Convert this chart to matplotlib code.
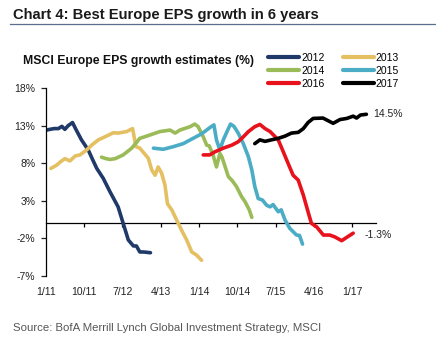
import matplotlib
matplotlib.use("Agg")
import matplotlib.pyplot as plt
from matplotlib.lines import Line2D

plt.rcParams["font.family"] = ["Liberation Sans", "DejaVu Sans"]

# x positions are months since January 2011
tick_months = [0, 9, 18, 27, 36, 45, 54, 63, 72]
tick_labels = ["1/11", "10/11", "7/12", "4/13", "1/14", "10/14", "7/15", "4/16", "1/17"]
y_ticks = [-7, -2, 3, 8, 13, 18]

m2012 = [0.2, 1, 2, 3, 3.8, 4.5, 5.3, 6.3, 7, 8.4, 10, 11, 12, 13.5, 15.1, 17, 18.2, 19.4, 20.6, 21.3, 22.1, 23, 24.6]
v2012 = [12.4, 12.5, 12.6, 12.6, 12.9, 12.5, 13.0, 13.4, 12.6, 11.1, 9.75, 8.5, 7.3, 6.0, 4.2, 2.2, 0.0, -2.2, -3.0, -3.0, -3.8, -3.8, -3.9]

m2013 = [1.2, 2.6, 3.5, 4.5, 5.7, 6.9, 8.05, 9.6, 10.8, 12.35, 13.9, 15.9, 17, 19, 20.4, 21.2, 22.1, 24.1, 24.9, 25.7, 26.4, 27.2, 28, 28.6, 29.6, 30.75, 31.9, 33.1, 34.3, 35.4, 36.6]
v2013 = [7.3, 7.75, 8.2, 8.6, 8.3, 8.95, 9.1, 9.75, 10.4, 11.1, 11.5, 12.05, 12.0, 12.2, 12.6, 10.2, 10.0, 8.65, 7.1, 6.4, 7.5, 6.7, 5.1, 2.6, 1.8, 0.45, -0.9, -2.2, -3.8, -4.2, -4.9]

m2014 = [13.1, 14.2, 15.1, 16.3, 18.2, 20.2, 22.1, 24.5, 26.8, 29.2, 30.4, 31.5, 33.9, 35.0, 35.8, 37.0, 37.8, 38.4, 39.3, 40.1, 40.9, 41.4, 42.9, 43.7, 44.8, 46.0, 46.8, 47.8, 48.4]
v2014 = [8.8, 8.6, 8.5, 8.6, 9.1, 10.0, 11.3, 11.75, 12.2, 12.4, 12.0, 12.4, 12.85, 13.2, 12.85, 11.5, 10.4, 10.3, 9.1, 7.5, 9.3, 8.8, 6.2, 5.75, 4.9, 3.55, 2.9, 1.8, 0.8]

m2015 = [25.3, 27.6, 30.0, 32.3, 34.6, 36.6, 38.6, 39.5, 40.1, 40.9, 41.7, 42.9, 43.4, 44.2, 45.2, 46.4, 47.6, 48.4, 49.1, 49.9, 50.9, 51.9, 52.7, 53.4, 54.6, 55.3, 56.2, 57.3, 58.9, 59.6, 60.3]
v2015 = [10.0, 9.85, 10.2, 10.6, 11.3, 11.9, 12.75, 13.1, 11.1, 9.75, 11.1, 12.6, 13.2, 12.9, 12.0, 10.6, 8.85, 7.1, 4.9, 3.3, 3.1, 2.4, 2.2, 2.5, 1.55, 1.8, 0.45, -0.65, -1.55, -1.6, -2.75]

m2016 = [37.0, 38.5, 39.7, 41.7, 43.7, 45.2, 46.4, 47.6, 49.1, 50.3, 51.5, 52.7, 54.6, 55.8, 56.9, 58.1, 59.3, 60.5, 61.6, 62.4, 63.6, 65.2, 66.7, 67.9, 69.5, 70.7, 72.2]
v2016 = [9.1, 9.1, 9.5, 10.0, 10.4, 10.85, 11.5, 12.2, 12.85, 13.15, 12.6, 12.2, 11.1, 9.5, 8.0, 6.4, 5.75, 3.75, 1.55, 0.0, -0.45, -1.55, -1.55, -1.8, -2.3, -1.85, -1.3]

m2017 = [49.1, 50.3, 51.5, 53.0, 54.6, 56.2, 57.7, 59.3, 60.5, 61.6, 62.8, 65.1, 66.3, 67.5, 69.1, 70.7, 72.2, 73.0, 73.9, 75.3]
v2017 = [10.6, 11.1, 10.9, 11.1, 11.3, 11.6, 12.0, 12.1, 12.6, 13.4, 13.95, 14.0, 13.65, 13.3, 13.8, 13.95, 14.25, 14.0, 14.4, 14.5]

series = [
    ("2012", m2012, v2012, "#1f3a68"),
    ("2013", m2013, v2013, "#e4c062"),
    ("2014", m2014, v2014, "#9bbb59"),
    ("2015", m2015, v2015, "#4bacc6"),
    ("2016", m2016, v2016, "#e8121c"),
    ("2017", m2017, v2017, "#000000"),
]

fig = plt.figure(figsize=(4.36, 3.49), dpi=100)
ax = fig.add_axes([0.1048, 0.209, 0.757, 0.539])

handles = {}
for name, xs, ys, col in series:
    ln, = ax.plot(xs, ys, color=col, lw=2.6, solid_capstyle="round", solid_joinstyle="round", label=name)
    handles[name] = ln

ax.set_xlim(0, 77.5)
ax.set_ylim(-7, 18)
ax.set_yticks(y_ticks)
ax.set_yticklabels([f"{t}%" for t in y_ticks])

for s in ["top", "right", "bottom"]:
    ax.spines[s].set_visible(False)
ax.spines["left"].set_linewidth(0.9)
ax.tick_params(axis="y", direction="out", length=3.5, width=0.9, pad=4, labelsize=7.5, colors="#222222")

# month labels along the bottom, tick marks on the zero line
ax.set_xticks(tick_months)
ax.set_xticklabels(tick_labels)
ax.tick_params(axis="x", length=0, pad=8, labelsize=7.5, labelcolor="#222222")

zero_pos = (0 - (-7)) / 25.0
sec = ax.secondary_xaxis(zero_pos)
sec.set_xticks(tick_months[1:])
sec.set_xticklabels([])
sec.spines["bottom"].set_linewidth(0.9)
sec.tick_params(axis="x", direction="out", length=3, width=0.9)

# end-of-line value labels
ax.annotate(f"{v2017[-1]}%", (m2017[-1], v2017[-1]), xytext=(5, 0), textcoords="offset points",
            va="center", ha="left", fontsize=7.5, color="#222222")
ax.annotate(f"{v2016[-1]}%", (m2016[-1], v2016[-1]), xytext=(8, -1), textcoords="offset points",
            va="center", ha="left", fontsize=7.5, color="#222222")

fig.text(0.03, 0.958, "Chart 4: Best Europe EPS growth in 6 years", fontsize=10.6, fontweight="bold",
         color="#1a1a1a", va="center", ha="left")
fig.add_artist(Line2D([0.023, 1.0], [0.93, 0.93], transform=fig.transFigure, color="#5a6f8f", lw=0.9))

fig.text(0.053, 0.826, "MSCI Europe EPS growth estimates (%)", fontsize=8.8, fontweight="bold",
         color="#111111", va="center", ha="left")

# legend filled row by row: 2012 2013 / 2014 2015 / 2016 2017
order = ["2012", "2014", "2016", "2013", "2015", "2017"]
fig.legend([handles[k] for k in order], order, ncol=2, loc="upper left", bbox_to_anchor=(0.615, 0.848),
           frameon=False, fontsize=7.5, handlelength=3.0, handletextpad=0.15, columnspacing=1.8,
           labelspacing=0.28, borderaxespad=0, borderpad=0)
for lh in fig.legends[0].get_lines():
    lh.set_linewidth(3.0)

fig.text(0.03, 0.06, "Source: BofA Merrill Lynch Global Investment Strategy, MSCI", fontsize=8.2,
         color="#555555", va="center", ha="left")

fig.savefig("out.png", dpi=100)
